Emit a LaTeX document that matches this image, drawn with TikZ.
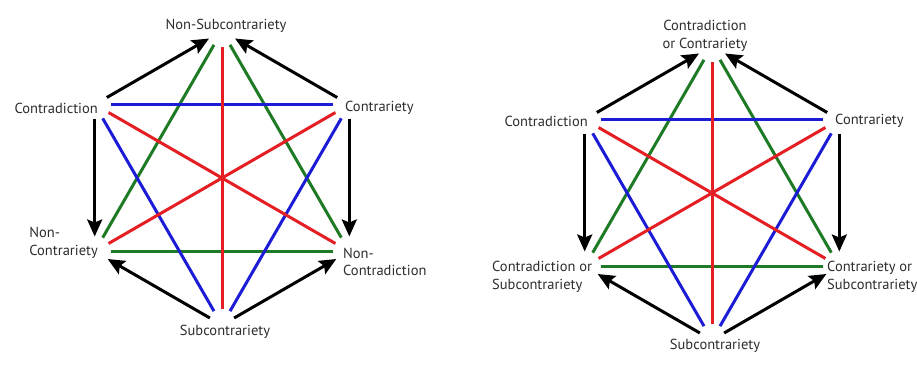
\documentclass[tikz,border=0pt]{standalone}
\usepackage{fontspec}
\setmainfont{PT Sans}
\usetikzlibrary{arrows.meta}
\definecolor{cred}{RGB}{228,30,34}
\definecolor{cgreen}{RGB}{30,122,36}
\definecolor{cblue}{RGB}{28,28,215}
\definecolor{ctext}{RGB}{45,45,45}
\begin{document}
\begin{tikzpicture}[x=1pt,y=-1pt,
  lbl/.style={font=\fontsize{14.5}{17.5}\selectfont, inner sep=0pt, text=ctext},
  redl/.style={draw=cred, line width=3pt, shorten <=16pt, shorten >=16pt},
  greenl/.style={draw=cgreen, line width=3pt, shorten <=16pt, shorten >=16pt},
  bluel/.style={draw=cblue, line width=3pt, shorten <=16pt, shorten >=16pt},
  arr/.style={draw=black, line width=3pt, shorten <=14pt, shorten >=15pt,
    -{Stealth[length=17pt,width=15pt,inset=3pt]}}]
\useasboundingbox (0,0) rectangle (917,364);
\fill[white] (0,0) rectangle (917,364);
% ---------- left diagram ----------
\begin{scope}[shift={(222,178)}]
  \coordinate (lT)  at (0,-147);
  \coordinate (lUL) at (-127.3,-73.5);
  \coordinate (lUR) at (127.3,-73.5);
  \coordinate (lLL) at (-127.3,73.5);
  \coordinate (lLR) at (127.3,73.5);
  \coordinate (lB)  at (0,147);
\end{scope}
\draw[greenl] (lT) -- (lLL);
\draw[greenl] (lT) -- (lLR);
\draw[greenl] (lLL) -- (lLR);
\draw[bluel] (lUL) -- (lUR);
\draw[bluel] (lUL) -- (lB);
\draw[bluel] (lUR) -- (lB);
\draw[redl] (lT) -- (lB);
\draw[redl] (lUL) -- (lLR);
\draw[redl] (lUR) -- (lLL);
\draw[arr] (lUL) -- (lT);
\draw[arr] (lUR) -- (lT);
\draw[arr] (lUL) -- (lLL);
\draw[arr] (lUR) -- (lLR);
\draw[arr] (lB) -- (lLL);
\draw[arr] (lB) -- (lLR);
\node[lbl] (ltop) at (226,26) {Non-Subcontrariety};
\node[lbl, anchor=east] (lul) at (98,108) {Contradiction};
\node[lbl, anchor=west] (lur) at (345,108) {Contrariety};
\node[lbl, anchor=east, align=left] (lll) at (98,243) {Non-\\Contrariety};
\node[lbl, anchor=west, align=left] (llr) at (343,262) {Non-\\Contradiction};
\node[lbl] (lbot) at (225,332) {Subcontrariety};
% ---------- right diagram ----------
\begin{scope}[shift={(712,193)}]
  \coordinate (rT)  at (0,-147);
  \coordinate (rUL) at (-127.3,-73.5);
  \coordinate (rUR) at (127.3,-73.5);
  \coordinate (rLL) at (-127.3,73.5);
  \coordinate (rLR) at (127.3,73.5);
  \coordinate (rB)  at (0,147);
\end{scope}
\draw[greenl] (rT) -- (rLL);
\draw[greenl] (rT) -- (rLR);
\draw[greenl] (rLL) -- (rLR);
\draw[bluel] (rUL) -- (rUR);
\draw[bluel] (rUL) -- (rB);
\draw[bluel] (rUR) -- (rB);
\draw[redl] (rT) -- (rB);
\draw[redl] (rUL) -- (rLR);
\draw[redl] (rUR) -- (rLL);
\draw[arr] (rUL) -- (rT);
\draw[arr] (rUR) -- (rT);
\draw[arr] (rUL) -- (rLL);
\draw[arr] (rUR) -- (rLR);
\draw[arr] (rB) -- (rLL);
\draw[arr] (rB) -- (rLR);
\node[lbl, align=center] (rtop) at (705,36) {Contradiction\\or Contrariety};
\node[lbl, anchor=east] (rul) at (588,121) {Contradiction};
\node[lbl, anchor=west] (rur) at (835,121) {Contrariety};
\node[lbl, anchor=west, align=left] (rll) at (492,277) {Contradiction or\\Subcontrariety};
\node[lbl, anchor=west, align=left] (rlr) at (827,277) {Contrariety or\\Subcontrariety};
\node[lbl] (rbot) at (715,346) {Subcontrariety};
\end{tikzpicture}
\end{document}
